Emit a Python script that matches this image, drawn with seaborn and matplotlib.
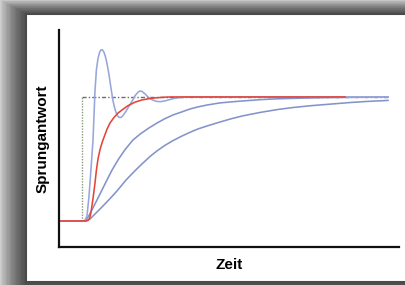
import numpy as np
import pandas as pd
import matplotlib
matplotlib.use("Agg")
import matplotlib.pyplot as plt
from matplotlib.patches import Rectangle
import seaborn as sns

# step responses (time, normalised response)
t_overshoot = [-1.05, 0, 0.15, 0.25, 0.35, 0.45, 0.55, 0.65, 0.72, 0.8, 0.88, 0.95, 1.02,
               1.1, 1.18, 1.25, 1.35, 1.45, 1.55, 1.65, 1.75, 1.85, 1.95, 2.05, 2.2, 2.35,
               2.5, 2.65, 2.8, 2.9, 3.0, 3.15, 3.3, 3.5, 3.7, 3.9, 4.15, 4.4, 4.65, 5.0,
               5.4, 15.3]
r_overshoot = [0, 0, 0.005, 0.04, 0.2, 0.42, 0.65, 1.05, 1.22, 1.31, 1.36, 1.38, 1.38,
               1.36, 1.32, 1.27, 1.18, 1.07, 0.97, 0.9, 0.855, 0.835, 0.835, 0.85, 0.885,
               0.925, 0.965, 1.01, 1.038, 1.048, 1.045, 1.025, 1.0, 0.978, 0.965, 0.962,
               0.968, 0.98, 0.99, 0.997, 1.0, 1.0]

t_red = [-1.05, 0.2, 0.3, 0.38, 0.45, 0.55, 0.65, 0.72, 0.8, 0.9, 1.0, 1.1, 1.25, 1.4,
         1.6, 1.8, 2.0, 2.3, 2.65, 3.0, 3.5, 4.0, 4.4, 13.15]
r_red = [0, 0, 0.005, 0.02, 0.07, 0.18, 0.306, 0.41, 0.50, 0.575, 0.63, 0.675, 0.74, 0.79,
         0.835, 0.87, 0.895, 0.93, 0.958, 0.976, 0.99, 0.997, 1.0, 1.0]

t_mid = [-1.05, 0.15, 0.3, 0.5, 0.75, 1.0, 1.25, 1.5, 1.8, 2.15, 2.55, 2.9, 3.3, 3.75,
         4.15, 4.55, 5.0, 5.4, 5.8, 6.25, 6.9, 7.5, 8.05, 8.9, 9.6, 10.4, 11.4, 12.4,
         13.8, 15.3]
r_mid = [0, 0, 0.03, 0.09, 0.169, 0.25, 0.331, 0.41, 0.492, 0.575, 0.653, 0.70, 0.745,
         0.79, 0.825, 0.855, 0.88, 0.903, 0.92, 0.935, 0.952, 0.961, 0.968, 0.978, 0.984,
         0.988, 0.992, 0.995, 0.998, 1.0]

t_low = [-1.05, 0.2, 0.4, 0.65, 1.05, 1.4, 1.75, 2.2, 2.65, 3.0, 3.4, 3.75, 4.15, 4.55,
         5.0, 5.4, 5.8, 6.25, 6.9, 7.5, 8.05, 8.9, 9.75, 10.5, 11.4, 12.55, 13.4, 14.25,
         15.3]
r_low = [0, 0, 0.016, 0.056, 0.121, 0.18, 0.242, 0.33, 0.405, 0.46, 0.52, 0.565, 0.61,
         0.648, 0.685, 0.715, 0.742, 0.766, 0.798, 0.826, 0.848, 0.875, 0.898, 0.914,
         0.929, 0.944, 0.955, 0.964, 0.972]

# ideal step (set point)
t_step = [0, 0, 15.3]
r_step = [0, 1, 1]

frames = []
for name, t, r in [("low", t_low, r_low), ("mid", t_mid, r_mid),
                   ("over", t_overshoot, r_overshoot), ("red", t_red, r_red)]:
    frames.append(pd.DataFrame({"Zeit": t, "Antwort": r, "Kurve": name}))
df = pd.concat(frames, ignore_index=True)

palette = {"low": "#8593cb", "mid": "#8593cb", "over": "#97a6dc", "red": "#e6443a"}

fig = plt.figure(figsize=(4.05, 2.85), dpi=100)
fig.patch.set_facecolor("#cfcfcf")

# drop shadow + framed panel
W, H = 405, 285
px0, py0, px1, py1 = 26, 3, 407, 271  # panel in pixels (from bottom)
for k in range(20, 0, -1):
    dx = k * 1.25
    dy = k * 0.7
    fig.patches.append(Rectangle(((px0 - dx) / W, 0), (px1 - px0 + dx) / W,
                                 (py1 + dy) / H, transform=fig.transFigure,
                                 facecolor="black", alpha=0.045, edgecolor="none", zorder=0))
fig.patches.append(Rectangle((px0 / W, py0 / H), (px1 - px0) / W, (py1 - py0) / H,
                             transform=fig.transFigure, facecolor="white",
                             edgecolor="#4a4a4a", linewidth=1.5, zorder=1))

ax = fig.add_axes([59 / W, 38 / H, 340 / W, 217 / H])
ax.set_facecolor("none")
ax.set_zorder(2)

ax.plot(t_step[:2], r_step[:2], linestyle=(0, (1, 1)), color="#8c9a80", linewidth=1.0)
ax.plot(t_step[1:], r_step[1:], linestyle=(0, (3, 1.5, 1, 1.5)), color="#6e6e6e", linewidth=1.0)

sns.lineplot(data=df, x="Zeit", y="Antwort", hue="Kurve", palette=palette,
             estimator=None, sort=False, linewidth=1.15, legend=False, ax=ax)

ax.set_xlim(-1.15, 15.85)
ax.set_ylim(-0.21, 1.54)
for s in ["top", "right"]:
    ax.spines[s].set_visible(False)
for s in ["left", "bottom"]:
    ax.spines[s].set_color("#111111")
    ax.spines[s].set_linewidth(1.6)
ax.set_xticks([])
ax.set_yticks([])
ax.set_xlabel("Zeit", fontsize=11, fontweight="bold", family="Liberation Sans", labelpad=8)
ax.set_ylabel("Sprungantwort", fontsize=11, fontweight="bold", family="Liberation Sans",
              labelpad=7)

fig.savefig("out.png", dpi=100)
